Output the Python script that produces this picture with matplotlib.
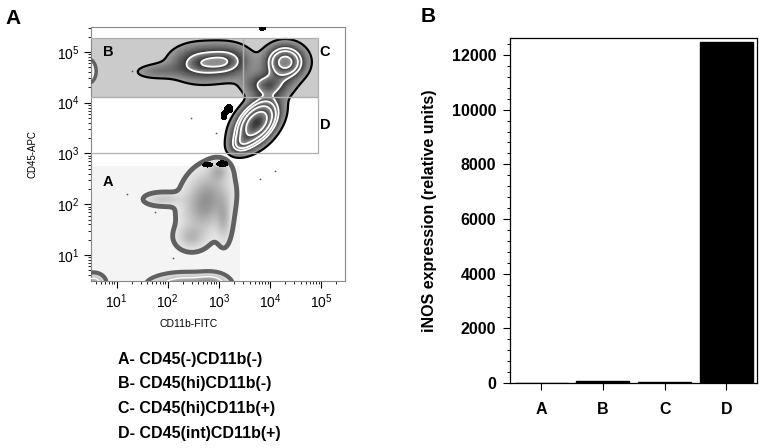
import numpy as np
import matplotlib
matplotlib.use('Agg')
import matplotlib.pyplot as plt
from matplotlib.patches import Rectangle
from matplotlib.ticker import LogLocator, LogFormatterMathtext, MultipleLocator

plt.rcParams['font.family'] = ['Liberation Sans', 'DejaVu Sans']
plt.rcParams['mathtext.fontset'] = 'custom'
plt.rcParams['mathtext.rm'] = 'Liberation Sans'
plt.rcParams['mathtext.it'] = 'Liberation Sans'

# ---- panel B data ----
groups = ['A', 'B', 'C', 'D']
inos = [5, 75, 35, 12470]

# ---- panel A: populations (log10 x, log10 y, sd x, sd y, corr, weight) ----
pop_gated = [  # B / C / D populations (zebra contours)
    (2.65, 4.78, 0.36, 0.22, 0.0, 0.26),
    (3.20, 4.82, 0.28, 0.20, 0.0, 0.20),
    (1.80, 4.62, 0.30, 0.10, 0.1, 0.09),
    (4.30, 4.80, 0.23, 0.20, 0.0, 0.52),
    (3.95, 4.35, 0.28, 0.16, 0.0, 0.24),
    (3.74, 3.60, 0.24, 0.26, 0.45, 1.00),
    (3.45, 3.20, 0.14, 0.12, 0.3, 0.20),
]
pop_neg = [  # A population (CD45-)
    (2.75, 2.05, 0.28, 0.38, 0.2, 1.00),
    (1.90, 2.10, 0.22, 0.08, 0.0, 0.45),
    (2.45, 1.35, 0.18, 0.15, 0.0, 0.50),
    (3.10, 1.70, 0.09, 0.30, 0.0, 0.50),
    (3.00, 2.65, 0.12, 0.12, 0.0, 0.50),
]
pop_low = [  # clipped population at the bottom edge
    (0.55, 0.45, 0.12, 0.10, 0.0, 0.7),
    (2.35, 0.40, 0.35, 0.12, 0.0, 1.0),
    (2.85, 0.40, 0.18, 0.12, 0.0, 0.9),
]
edge_blob = [(0.45, 4.62, 0.07, 0.11, 0.0, 1.0)]
blobs = [  # small black events
    (3.20, 3.88, 0.05, 0.05, 0.0, 1.0),
    (3.10, 3.75, 0.04, 0.06, 0.0, 0.8),
    (2.78, 2.78, 0.06, 0.03, 0.0, 1.0),
    (3.07, 2.80, 0.07, 0.035, 0.0, 1.0),
    (3.85, 5.47, 0.04, 0.03, 0.0, 1.0),
]
dots_x = [1.30, 2.95, 3.50, 2.45, 4.10, 1.75, 3.80, 1.20, 2.10]
dots_y = [4.62, 3.40, 3.05, 3.70, 2.65, 1.85, 2.50, 2.20, 0.95]

# gates (data units)
gate_A = (10**0.4, 10**0.4, 10**3.42, 10**2.75)
gate_B = (10**0.4, 10**4.12, 10**3.47, 10**5.27)
gate_C = (10**3.47, 10**4.12, 10**4.94, 10**5.27)
gate_D = (10**0.4, 10**3.0, 10**4.94, 10**4.12)


def dens(gx, gy, comps):
    z = np.zeros_like(gx)
    for mx, my, sx, sy, r, w in comps:
        dx = (gx - mx) / sx
        dy = (gy - my) / sy
        z += w * np.exp(-(dx * dx - 2 * r * dx * dy + dy * dy) / (2 * (1 - r * r)))
    return z


fig = plt.figure(figsize=(7.65, 4.48), dpi=100)
axA = fig.add_axes([0.119, 0.3728, 0.332, 0.567])
axB = fig.add_axes([0.667, 0.145, 0.323, 0.770])

lx = np.linspace(0.3, 5.6, 500)
GX, GY = np.meshgrid(lx, lx)
X, Y = 10**GX, 10**GY

# gate backgrounds
axA.add_patch(Rectangle((gate_A[0], gate_A[1]), gate_A[2] - gate_A[0], gate_A[3] - gate_A[1],
                        fc='#f4f4f4', ec='none', zorder=0))
for g in (gate_B, gate_C):
    axA.add_patch(Rectangle((g[0], g[1]), g[2] - g[0], g[3] - g[1], fc='#cbcbcb', ec='none', zorder=0))

# zebra contour of gated populations
Z = dens(GX, GY, pop_gated)
Z = Z / Z.max()
lev = np.array([0.04, 0.20, 0.29, 0.45, 0.70, 1.01])
idx = np.clip(np.searchsorted(lev, Z) - 1, 0, len(lev) - 2)
frac = (Z - lev[idx]) / (lev[idx + 1] - lev[idx])
shade = np.ma.masked_where(Z < lev[0], 0.62 - 0.42 * np.clip(frac, 0, 1))
axA.pcolormesh(X, Y, shade, cmap='gray', vmin=0, vmax=1, shading='auto', zorder=2, rasterized=True)
axA.contour(X, Y, Z, levels=lev[1:-1], colors='white', linewidths=1.3, zorder=3)
axA.contour(X, Y, Z, levels=[lev[0]], colors='black', linewidths=1.6, zorder=3)

# negative population, light rendering
ZA = dens(GX, GY, pop_neg)
ZA = ZA / ZA.max()
shadeA = np.ma.masked_where(ZA < 0.1, 0.95 - 0.38 * ZA)
axA.pcolormesh(X, Y, shadeA, cmap='gray', vmin=0, vmax=1, shading='auto', zorder=2, rasterized=True)
axA.contour(X, Y, ZA, levels=[0.1], colors='#606060', linewidths=3.5, zorder=3)

ZL = dens(GX, GY, pop_low)
shadeL = np.ma.masked_where(ZL < 0.08, 0.92 - 0.4 * np.clip(ZL, 0, 1))
axA.pcolormesh(X, Y, shadeL, cmap='gray', vmin=0, vmax=1, shading='auto', zorder=2, rasterized=True)
axA.contour(X, Y, ZL, levels=[0.08], colors='#606060', linewidths=3, zorder=3)
axA.contour(X, Y, ZL, levels=[0.45], colors='white', linewidths=1, zorder=3)

ZE = dens(GX, GY, edge_blob)
axA.contourf(X, Y, ZE, levels=[0.1, 10], colors='#f2f2f2', zorder=2)
axA.contour(X, Y, ZE, levels=[0.1], colors='#606060', linewidths=2.5, zorder=3)

ZB = dens(GX, GY, blobs)
axA.contourf(X, Y, ZB, levels=[0.3, 10], colors='black', zorder=4)
axA.scatter(10**np.array(dots_x), 10**np.array(dots_y), s=1.5, c='#555555', lw=0, zorder=2)

# gate outlines
for g in (gate_B, gate_C, gate_D):
    axA.add_patch(Rectangle((g[0], g[1]), g[2] - g[0], g[3] - g[1], fc='none', ec='#b0b0b0',
                            lw=0.9, zorder=5))

axA.set_xscale('log')
axA.set_yscale('log')
axA.set_xlim(10**0.5, 10**5.47)
axA.set_ylim(10**0.49, 10**5.49)
for axis in (axA.xaxis, axA.yaxis):
    axis.set_major_locator(LogLocator(base=10, numticks=10))
    axis.set_minor_locator(LogLocator(base=10, subs=np.arange(2, 10), numticks=10))
    axis.set_major_formatter(LogFormatterMathtext())
axA.tick_params(which='major', direction='out', length=5, width=0.8, labelsize=10, pad=3)
axA.tick_params(which='minor', direction='out', length=2.5, width=0.6)
for s in axA.spines.values():
    s.set_linewidth(0.8)
    s.set_color('#888888')
axA.set_ylabel('CD45-APC', fontsize=7, labelpad=14)

axA.text(10**0.84, 10**5.0, 'B', fontsize=10.5, fontweight='bold', ha='center', va='center', zorder=6)
axA.text(10**5.08, 10**5.0, 'C', fontsize=10.5, fontweight='bold', ha='center', va='center', zorder=6)
axA.text(10**5.08, 10**3.57, 'D', fontsize=10.5, fontweight='bold', ha='center', va='center', zorder=6)
axA.text(10**0.84, 10**2.43, 'A', fontsize=10.5, fontweight='bold', ha='center', va='center', zorder=6)

fig.text(189 / 765, 1 - 324 / 448, 'CD11b-FITC', fontsize=7.5, ha='center', va='center')
fig.text(13 / 765, 1 - 18 / 448, 'A', fontsize=15, fontweight='bold', ha='center', va='center')
fig.text(428 / 765, 1 - 16 / 448, 'B', fontsize=15, fontweight='bold', ha='center', va='center')

legend_lines = ['A- CD45(-)CD11b(-)', 'B- CD45(hi)CD11b(-)', 'C- CD45(hi)CD11b(+)', 'D- CD45(int)CD11b(+)']
for i, t in enumerate(legend_lines):
    fig.text(118 / 765, 1 - (359 + 24.7 * i) / 448, t, fontsize=11.5, fontweight='bold',
             ha='left', va='center')

# ---- panel B ----
xs = np.arange(len(groups))
axB.bar(xs, inos, width=0.86, color='black', edgecolor='black')
axB.set_xlim(-0.5, 3.5)
axB.set_ylim(0, 12620)
axB.set_xticks(xs)
axB.set_xticklabels(groups, fontweight='bold', fontsize=11.5)
axB.set_yticks(np.arange(0, 12001, 2000))
axB.yaxis.set_minor_locator(MultipleLocator(400))
for lab in axB.get_yticklabels():
    lab.set_fontweight('bold')
axB.tick_params(axis='y', which='major', direction='out', length=5, width=0.8, labelsize=11.5, pad=5)
axB.tick_params(axis='y', which='minor', direction='out', length=2.5, width=0.7)
axB.tick_params(axis='x', which='major', direction='out', length=5, width=0.8, pad=9)
for s in axB.spines.values():
    s.set_linewidth(0.9)
axB.set_ylabel('iNOS expression (relative units)', fontsize=11.5, fontweight='bold', labelpad=11)

fig.savefig('out.png', dpi=100)
